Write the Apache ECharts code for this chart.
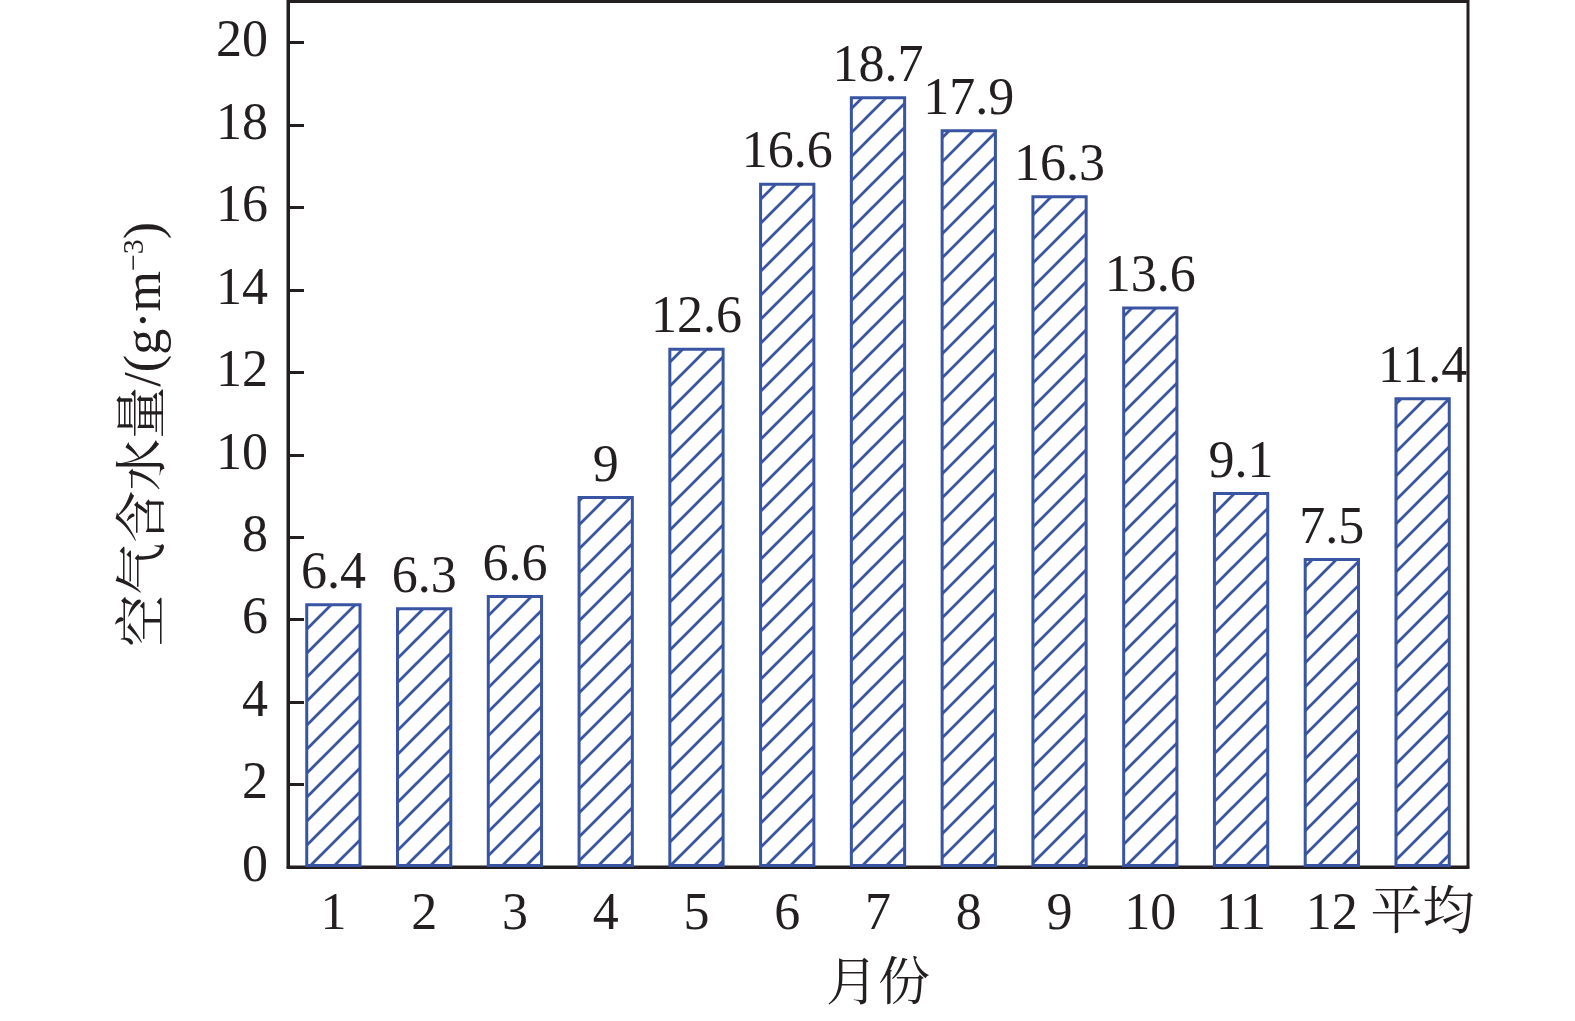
<!DOCTYPE html>
<html>
<head>
<meta charset="utf-8">
<script src="https://cdn.jsdelivr.net/npm/echarts@6/dist/echarts.min.js"></script>
<style>html,body{margin:0;padding:0;background:#fff;}#c{width:1575px;height:1021px;}</style>
</head>
<body>
<div id="c"></div>
<script>
const categories = ['1','2','3','4','5','6','7','8','9','10','11','12','平均'];
const values = [6.4, 6.3, 6.6, 9, 12.6, 16.6, 18.7, 17.9, 16.3, 13.6, 9.1, 7.5, 11.4];

const FONT = '"Liberation Serif", "Times New Roman", "Noto Serif CJK SC", "Noto Sans CJK SC", serif';
const BLUE = '#3a54a4';
const INK = '#231f20';

function hatch() {
  const s = 24;
  const c = document.createElement('canvas');
  c.width = s; c.height = s;
  const g = c.getContext('2d');
  g.fillStyle = '#fff';
  g.fillRect(0, 0, s, s);
  g.strokeStyle = BLUE;
  g.lineWidth = 2.8;
  g.beginPath();
  g.moveTo(-4, s + 4); g.lineTo(s + 4, -4);
  g.moveTo(-4, 4); g.lineTo(4, -4);
  g.moveTo(s - 4, s + 4); g.lineTo(s + 4, s - 4);
  g.stroke();
  return c;
}

const chart = echarts.init(document.getElementById('c'));
chart.setOption({
  animation: false,
  backgroundColor: '#fff',
  grid: {
    left: 288, right: 107, top: 1.5, bottom: 154,
    show: true, borderColor: INK, borderWidth: 3, backgroundColor: 'transparent'
  },
  xAxis: {
    type: 'category',
    data: categories,
    name: '月份',
    nameLocation: 'middle',
    nameGap: 93,
    nameTextStyle: { fontFamily: FONT, fontSize: 52, color: INK },
    axisLine: { lineStyle: { color: INK, width: 3 } },
    axisTick: { inside: true, alignWithLabel: true, length: 16, lineStyle: { color: INK, width: 3 } },
    axisLabel: { fontFamily: FONT, fontSize: 52, color: INK, margin: 22, interval: 0 },
    splitLine: { show: false }
  },
  yAxis: {
    type: 'value',
    min: 0, max: 21, interval: 2,
    name: '空气含水量/(g·m{sup|−3})',
    nameLocation: 'middle',
    nameGap: 116,
    nameRotate: 90,
    nameTextStyle: {
      fontFamily: FONT, fontSize: 52, color: INK,
      rich: { sup: { fontFamily: FONT, fontSize: 30, color: INK, verticalAlign: 'top', lineHeight: 52 } }
    },
    axisLine: { show: true, lineStyle: { color: INK, width: 3 } },
    axisTick: { show: true, inside: true, length: 16, lineStyle: { color: INK, width: 3 } },
    axisLabel: { fontFamily: FONT, fontSize: 52, color: INK, margin: 20, showMaxLabel: false },
    splitLine: { show: false }
  },
  series: [{
    type: 'bar',
    data: values,
    barWidth: '62%',
    itemStyle: {
      color: { image: hatch(), repeat: 'repeat' },
      borderColor: BLUE,
      borderWidth: 3
    },
    label: {
      show: true, position: 'top', distance: 3,
      fontFamily: FONT, fontSize: 52, color: INK
    }
  }]
});
</script>
</body>
</html>
